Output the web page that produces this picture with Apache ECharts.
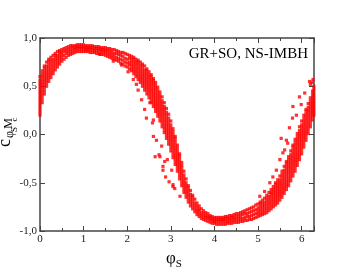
<!DOCTYPE html>
<html><head><meta charset="utf-8">
<script src="https://cdn.jsdelivr.net/npm/echarts@6/dist/echarts.min.js"></script>
<style>html,body{margin:0;padding:0;background:#fff}#c{width:353px;height:273px}</style>
</head><body><div id="c"></div>
<script>
const xTickLabels = ['0','1','2','3','4','5','6'];
const yTickLabels = ['-1,0','-0,5','0,0','0,5','1,0'];
const chartTitle = 'GR+SO, NS-IMBH';

const bandPhi = [0,0.05,0.1,0.15,0.2,0.25,0.3,0.35,0.4,0.45,0.5,0.55,0.6,0.65,0.7,0.75,0.8,0.85,0.9,0.95,1,1.05,1.1,1.15,1.2,1.25,1.3,1.35,1.4,1.45,1.5,1.55,1.6,1.65,1.7,1.75,1.8,1.85,1.9,1.95,2,2.05,2.1,2.15,2.2,2.25,2.3,2.35,2.4,2.45,2.5,2.55,2.6,2.65,2.7,2.75,2.8,2.85,2.9,2.95,3,3.05,3.1,3.15,3.2,3.25,3.3,3.35,3.4,3.45,3.5,3.55,3.6,3.65,3.7,3.75,3.8,3.85,3.9,3.95,4,4.05,4.1,4.15,4.2,4.25,4.3,4.35,4.4,4.45,4.5,4.55,4.6,4.65,4.7,4.75,4.8,4.85,4.9,4.95,5,5.05,5.1,5.15,5.2,5.25,5.3,5.35,5.4,5.45,5.5,5.55,5.6,5.65,5.7,5.75,5.8,5.85,5.9,5.95,6,6.05,6.1,6.15,6.2,6.25,6.28];

const bandC = [
[0.20,0.23,0.26,0.29,0.32,0.35,0.38,0.41,0.44,0.47,0.50,0.53,0.56,0.60],
[0.33,0.36,0.39,0.42,0.45,0.48,0.51,0.54,0.57,0.60,0.63,0.66],
[0.42,0.45,0.48,0.51,0.54,0.57,0.60,0.63,0.66,0.69,0.71],
[0.50,0.53,0.56,0.59,0.62,0.65,0.68,0.71,0.75],
[0.55,0.58,0.61,0.64,0.67,0.70,0.73,0.76,0.78],
[0.59,0.62,0.65,0.68,0.71,0.74,0.77,0.80],
[0.63,0.66,0.69,0.72,0.75,0.78,0.82],
[0.67,0.70,0.73,0.76,0.79,0.82,0.84],
[0.70,0.73,0.76,0.79,0.82,0.86],
[0.73,0.76,0.79,0.82,0.85,0.87],
[0.76,0.79,0.82,0.85,0.88],
[0.78,0.82,0.86,0.89],
[0.80,0.84,0.87,0.90],
[0.82,0.85,0.88,0.91],
[0.83,0.86,0.89,0.92],
[0.84,0.87,0.90,0.92],
[0.85,0.88,0.90,0.92],
[0.86,0.89,0.91,0.93],
[0.86,0.89,0.91,0.93],
[0.86,0.89,0.91,0.93],
[0.86,0.89,0.91,0.93],
[0.86,0.88,0.90,0.92],
[0.86,0.88,0.90,0.92],
[0.85,0.88,0.90,0.92],
[0.85,0.88,0.90,0.92],
[0.85,0.87,0.89,0.91],
[0.84,0.87,0.89,0.91],
[0.84,0.87,0.89,0.91],
[0.83,0.86,0.88,0.90],
[0.83,0.86,0.88,0.90],
[0.82,0.85,0.87,0.90],
[0.81,0.84,0.87,0.89],
[0.80,0.83,0.86,0.89],
[0.79,0.82,0.85,0.88],
[0.78,0.81,0.84,0.88],
[0.77,0.80,0.84,0.87],
[0.76,0.79,0.83,0.86],
[0.74,0.78,0.82,0.85],
[0.73,0.77,0.81,0.85],
[0.71,0.75,0.79,0.84],
[0.70,0.74,0.78,0.83],
[0.68,0.72,0.75,0.79,0.82],
[0.66,0.69,0.72,0.75,0.78,0.81],
[0.63,0.66,0.69,0.72,0.75,0.78,0.80],
[0.60,0.63,0.66,0.69,0.72,0.75,0.78],
[0.57,0.60,0.63,0.66,0.69,0.72,0.75,0.77],
[0.54,0.57,0.60,0.63,0.66,0.69,0.72,0.75],
[0.50,0.53,0.56,0.59,0.62,0.65,0.68,0.71,0.73],
[0.46,0.49,0.52,0.55,0.58,0.61,0.64,0.67,0.71],
[0.42,0.45,0.48,0.51,0.54,0.57,0.60,0.63,0.66,0.68],
[0.38,0.41,0.44,0.47,0.50,0.53,0.56,0.59,0.62,0.65],
[0.33,0.36,0.39,0.42,0.45,0.48,0.51,0.54,0.57,0.60,0.62],
[0.29,0.32,0.35,0.38,0.41,0.44,0.47,0.50,0.53,0.56,0.58],
[0.24,0.27,0.30,0.33,0.36,0.39,0.42,0.45,0.48,0.51,0.54],
[0.19,0.22,0.25,0.28,0.31,0.34,0.37,0.40,0.43,0.46,0.49],
[0.14,0.17,0.20,0.23,0.26,0.29,0.32,0.35,0.38,0.41,0.44],
[0.08,0.11,0.14,0.17,0.20,0.23,0.26,0.29,0.32,0.35,0.39],
[0.02,0.05,0.08,0.11,0.14,0.17,0.20,0.23,0.26,0.29,0.33],
[-0.04,-0.01,0.02,0.05,0.08,0.11,0.14,0.17,0.20,0.23,0.27],
[-0.10,-0.07,-0.04,-0.01,0.02,0.05,0.08,0.11,0.14,0.17,0.21],
[-0.17,-0.14,-0.11,-0.08,-0.05,-0.02,0.01,0.04,0.07,0.10,0.14],
[-0.24,-0.21,-0.18,-0.15,-0.12,-0.09,-0.06,-0.03,0.00,0.03,0.06],
[-0.31,-0.28,-0.25,-0.22,-0.19,-0.16,-0.13,-0.10,-0.07,-0.04,-0.02],
[-0.38,-0.35,-0.32,-0.29,-0.26,-0.23,-0.20,-0.17,-0.14,-0.11],
[-0.46,-0.43,-0.40,-0.37,-0.34,-0.31,-0.28,-0.25,-0.22,-0.20],
[-0.53,-0.50,-0.47,-0.44,-0.41,-0.38,-0.35,-0.32,-0.29],
[-0.60,-0.57,-0.54,-0.51,-0.48,-0.45,-0.42,-0.38],
[-0.65,-0.62,-0.59,-0.56,-0.53,-0.50,-0.46],
[-0.70,-0.67,-0.64,-0.61,-0.58,-0.55,-0.53],
[-0.74,-0.71,-0.68,-0.65,-0.62,-0.58],
[-0.77,-0.74,-0.71,-0.68,-0.65,-0.63],
[-0.80,-0.77,-0.74,-0.71,-0.67],
[-0.83,-0.80,-0.77,-0.74,-0.71],
[-0.85,-0.82,-0.79,-0.77,-0.74],
[-0.87,-0.84,-0.81,-0.77],
[-0.88,-0.85,-0.82,-0.79],
[-0.89,-0.86,-0.84,-0.81],
[-0.90,-0.87,-0.85,-0.82],
[-0.91,-0.88,-0.86,-0.84],
[-0.92,-0.89,-0.87,-0.85],
[-0.92,-0.90,-0.88,-0.86],
[-0.93,-0.90,-0.88,-0.86],
[-0.93,-0.90,-0.88,-0.86],
[-0.93,-0.90,-0.88,-0.86],
[-0.93,-0.90,-0.88,-0.86],
[-0.93,-0.90,-0.87,-0.85],
[-0.92,-0.90,-0.87,-0.85],
[-0.92,-0.89,-0.87,-0.84],
[-0.92,-0.89,-0.86,-0.84],
[-0.91,-0.88,-0.86,-0.83],
[-0.91,-0.88,-0.85,-0.82],
[-0.91,-0.88,-0.85,-0.82],
[-0.90,-0.87,-0.84,-0.81],
[-0.90,-0.87,-0.83,-0.80],
[-0.89,-0.86,-0.82,-0.79],
[-0.89,-0.85,-0.82,-0.78],
[-0.88,-0.85,-0.81,-0.77],
[-0.88,-0.84,-0.80,-0.76],
[-0.87,-0.83,-0.79,-0.75],
[-0.86,-0.82,-0.78,-0.73],
[-0.85,-0.82,-0.79,-0.76,-0.72],
[-0.84,-0.81,-0.78,-0.75,-0.72,-0.70],
[-0.83,-0.80,-0.77,-0.74,-0.71,-0.68],
[-0.82,-0.79,-0.76,-0.73,-0.70,-0.66],
[-0.81,-0.78,-0.75,-0.72,-0.69,-0.66,-0.63],
[-0.79,-0.76,-0.73,-0.70,-0.67,-0.64,-0.60],
[-0.77,-0.74,-0.71,-0.68,-0.65,-0.62,-0.60,-0.57],
[-0.75,-0.72,-0.69,-0.66,-0.63,-0.60,-0.57,-0.54],
[-0.73,-0.70,-0.67,-0.64,-0.61,-0.58,-0.55,-0.52,-0.50],
[-0.71,-0.68,-0.65,-0.62,-0.59,-0.56,-0.53,-0.50,-0.47],
[-0.68,-0.65,-0.62,-0.59,-0.56,-0.53,-0.50,-0.47,-0.43],
[-0.65,-0.62,-0.59,-0.56,-0.53,-0.50,-0.47,-0.44,-0.41,-0.38],
[-0.61,-0.58,-0.55,-0.52,-0.49,-0.46,-0.43,-0.40,-0.37,-0.33],
[-0.57,-0.54,-0.51,-0.48,-0.45,-0.42,-0.39,-0.36,-0.33,-0.30,-0.28],
[-0.53,-0.50,-0.47,-0.44,-0.41,-0.38,-0.35,-0.32,-0.29,-0.26,-0.23],
[-0.48,-0.45,-0.42,-0.39,-0.36,-0.33,-0.30,-0.27,-0.24,-0.21,-0.17],
[-0.43,-0.40,-0.37,-0.34,-0.31,-0.28,-0.25,-0.22,-0.19,-0.16,-0.13,-0.11],
[-0.38,-0.35,-0.32,-0.29,-0.26,-0.23,-0.20,-0.17,-0.14,-0.11,-0.08,-0.05],
[-0.32,-0.29,-0.26,-0.23,-0.20,-0.17,-0.14,-0.11,-0.08,-0.05,-0.02,0.01],
[-0.26,-0.23,-0.20,-0.17,-0.14,-0.11,-0.08,-0.05,-0.02,0.01,0.04,0.08],
[-0.20,-0.17,-0.14,-0.11,-0.08,-0.05,-0.02,0.01,0.04,0.07,0.10,0.14],
[-0.13,-0.10,-0.07,-0.04,-0.01,0.02,0.05,0.08,0.11,0.14,0.17,0.20],
[-0.06,-0.03,0.00,0.03,0.06,0.09,0.12,0.15,0.18,0.21,0.24,0.26],
[0.01,0.04,0.07,0.10,0.13,0.16,0.19,0.22,0.25,0.28,0.32],
[0.08,0.11,0.14,0.17,0.20,0.23,0.26,0.29,0.32,0.35,0.38],
[0.15,0.18,0.21,0.24,0.27,0.30,0.33,0.36,0.39,0.42,0.45],
[0.20,0.23,0.26,0.29,0.32,0.35,0.38,0.41,0.44,0.47,0.50]
];

const outPhi = [1.37,1.68,1.87,2.02,2.14,2.21,2.25,2.33,2.40,2.44,2.52,2.58,2.60,2.60,2.64,2.67,2.73,2.75,2.79,2.82,2.82,2.86,2.88,2.92,2.96,3.02,3.05,3.05,3.09,3.21,5.04,5.15,5.27,5.34,5.42,5.50,5.53,5.57,5.61,5.65,5.68,5.72,5.79,5.80,5.88,5.95,5.99,6.07,6.18,6.20,6.26,6.24];
const outC = [0.83,0.76,0.72,0.65,0.57,0.52,0.46,0.36,0.26,0.17,0.33,0.12,0.15,-0.02,-0.23,-0.06,-0.21,-0.23,-0.12,-0.33,-0.37,-0.28,-0.44,-0.26,-0.49,-0.37,-0.54,-0.52,-0.56,-0.64,-0.64,-0.59,-0.50,-0.44,-0.37,-0.26,-0.04,-0.19,-0.16,-0.06,-0.09,0.07,0.17,0.29,0.20,0.39,0.31,0.43,0.55,0.52,0.57,0.54];

const pts = [];
bandPhi.forEach((x, i) => (bandC[i] || []).forEach(y => pts.push([x, y])));
outPhi.forEach((x, i) => pts.push([x, outC[i]]));

const axisColor = '#444';
const serif = 'Liberation Serif';
const X_MAX = 2 * Math.PI;

function xAxisDef(pos, interval, len, main) {
  return {
    type: 'value', position: pos, min: 0, max: X_MAX, interval: interval,
    axisLine: { show: main, onZero: false, lineStyle: { color: axisColor, width: 1.5 } },
    axisTick: { show: true, inside: true, length: len, lineStyle: { color: axisColor, width: 1 } },
    axisLabel: { show: false },
    splitLine: { show: false }
  };
}
const xAxes = [
  xAxisDef('bottom', 1, 5, true),
  xAxisDef('bottom', 0.5, 3, false),
  xAxisDef('top', 1, 5, true),
  xAxisDef('top', 0.5, 3, false)
];
xAxes[0].axisLabel = {
  show: true, margin: 3, fontFamily: serif, fontSize: 11, color: '#222',
  formatter: v => { const i = xTickLabels.indexOf(String(Math.round(v))); return (Math.abs(v - Math.round(v)) < 1e-6 && i >= 0) ? xTickLabels[i] : ''; }
};
xAxes[0].name = '{p|φ}{s|S}';
xAxes[0].nameLocation = 'middle';
xAxes[0].nameGap = 11;
xAxes[0].nameTextStyle = {
  verticalAlign: 'top',
  padding: [0, 6, 0, 0],
  rich: {
    p: { fontFamily: serif, fontSize: 17, color: '#000' },
    s: { fontFamily: serif, fontSize: 11, color: '#000', padding: [12, 0, 0, 0] }
  }
};

function yAxisDef(pos, main) {
  return {
    type: 'value', position: pos, min: -1, max: 1, interval: 0.5,
    axisLine: { show: true, onZero: false, lineStyle: { color: axisColor, width: 1.5 } },
    axisTick: { show: true, inside: true, length: 5, lineStyle: { color: axisColor, width: 1 } },
    axisLabel: { show: main, margin: 3, fontFamily: serif, fontSize: 11, color: '#222',
      formatter: v => yTickLabels[Math.round((v + 1) / 0.5)] },
    splitLine: { show: false }
  };
}
const yAxes = [yAxisDef('left', true), yAxisDef('right', false)];

function rotText(t, x, y, size) {
  return {
    type: 'text', x: x, y: y, rotation: Math.PI / 2, silent: true,
    style: { text: t, fontFamily: serif, fontSize: size, fill: '#000',
      align: 'center', verticalAlign: 'middle', textAlign: 'center', textVerticalAlign: 'middle' }
  };
}
const yTitle = [
  rotText('c', 5, 143, 18),
  rotText('φ', 9.5, 134.5, 12),
  rotText('S', 14.5, 129.5, 9),
  rotText('M', 8.5, 123.5, 12),
  rotText('c', 14.5, 119.5, 9)
];

const chart = echarts.init(document.getElementById('c'), null, { renderer: 'canvas' });
chart.setOption({
  animation: false,
  backgroundColor: '#fff',
  title: { text: chartTitle, right: 45, top: 47, padding: 0,
    textStyle: { fontFamily: serif, fontSize: 15, fontWeight: 'normal', color: '#000' } },
  grid: { left: 40, right: 39, top: 38, bottom: 42, containLabel: false, outerBoundsMode: 'none' },
  xAxis: xAxes,
  yAxis: yAxes,
  graphic: yTitle,
  series: [{
    type: 'scatter', xAxisIndex: 0, yAxisIndex: 0,
    symbol: 'rect', symbolSize: 3.2,
    itemStyle: { color: '#ff0000' },
    data: pts
  }]
});
</script>
</body></html>
